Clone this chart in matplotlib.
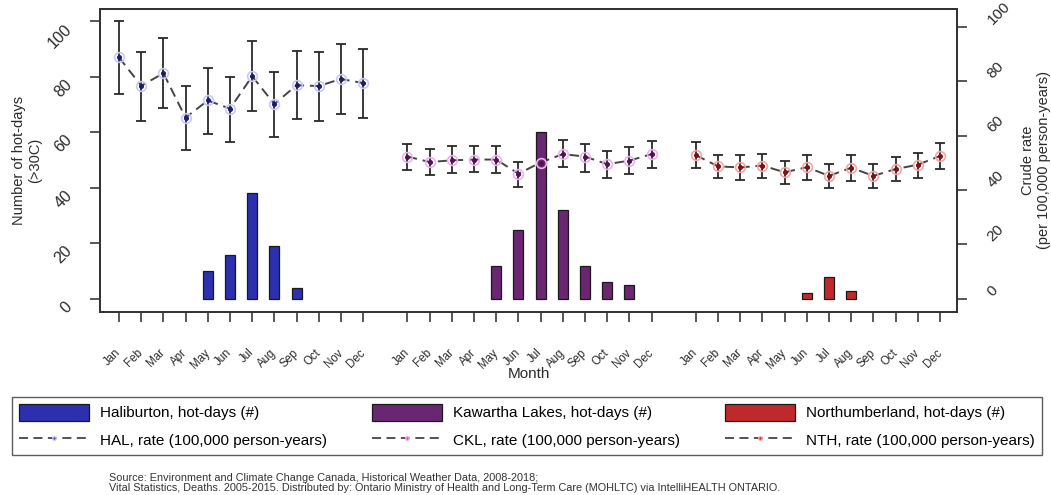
"""Monthly hot-days (>30C) and crude death rates for Haliburton, Kawartha Lakes
and Northumberland: bars for hot-days on the left axis, rates with error bars
on the right axis.  Writes out.png.
"""
import numpy as np
import matplotlib
matplotlib.use("Agg")
import matplotlib.pyplot as plt
from matplotlib.patches import Patch
from matplotlib.lines import Line2D

plt.rcParams["font.family"] = ["Liberation Sans", "DejaVu Sans"]

months = ["Jan", "Feb", "Mar", "Apr", "May", "Jun",
          "Jul", "Aug", "Sep", "Oct", "Nov", "Dec"]
regions = ["HAL", "CKL", "NTH"]
region_names = ["Haliburton", "Kawartha Lakes", "Northumberland"]

# hot-days (>30C), count per month
hal_days = [0, 0, 0, 0, 10, 16, 38, 19, 4, 0, 0, 0]
ckl_days = [0, 0, 0, 0, 12, 25, 60, 32, 12, 6, 5, 0]
nth_days = [0, 0, 0, 0, 0, 2, 8, 3, 0, 0, 0, 0]

# crude death rate per 100,000 person-years, with 95% CI
hal_rate = [88.7, 78.3, 82.9, 66.6, 72.9, 69.9, 81.8, 71.6, 78.5, 78.2, 80.8, 79.3]
hal_lo = [75.3, 65.5, 70.1, 54.8, 60.7, 57.7, 69.2, 59.4, 66.1, 65.5, 68.0, 66.5]
hal_hi = [102.1, 90.6, 95.8, 78.2, 84.9, 81.5, 94.8, 83.3, 91.2, 90.6, 93.7, 91.9]

ckl_rate = [52.3, 50.3, 50.9, 51.2, 51.2, 46.0, 50.1, 53.2, 52.3, 49.5, 50.8, 53.2]
ckl_lo = [47.2, 45.6, 46.2, 46.5, 46.2, 41.1, 45.0, 48.3, 46.5, 44.6, 46.0, 48.2]
ckl_hi = [57.0, 55.0, 56.0, 56.3, 56.3, 50.3, 54.8, 58.2, 57.0, 54.2, 55.8, 58.0]

nth_rate = [52.8, 48.7, 48.3, 49.0, 46.5, 48.4, 45.2, 48.2, 45.2, 47.7, 49.3, 52.5]
nth_lo = [48.1, 44.3, 43.8, 44.4, 42.1, 43.7, 40.7, 43.4, 40.7, 43.2, 44.6, 47.7]
nth_hi = [57.5, 53.0, 52.7, 53.4, 50.8, 52.7, 49.4, 52.7, 49.4, 52.3, 53.6, 57.2]

yticks = [0, 20, 40, 60, 80, 100]

days = [hal_days, ckl_days, nth_days]
rates = [hal_rate, ckl_rate, nth_rate]
los = [hal_lo, ckl_lo, nth_lo]
his = [hal_hi, ckl_hi, nth_hi]

bar_colors = ["#2c2fae", "#6a2670", "#c0292b"]
ring_colors = ["#c9c9f4", "#eeb2ee", "#f3a6a6"]
dot_colors = ["#1b1b70", "#4e1450", "#7e0f10"]
legend_dots = ["#3a3ad0", "#d040d0", "#d02020"]
ink = "#2a2a2a"

fig = plt.figure(figsize=(10.51, 4.95), dpi=100)
ax = fig.add_axes([0.0951, 0.3697, 0.8155, 0.6121])
ax2 = ax.twinx()
# bars sit above the rate error bars; rate markers are drawn last on top
ax.set_zorder(ax2.get_zorder() + 1)
ax.patch.set_visible(False)

all_x = []
for g in range(3):
    x = np.arange(12) + 13 * g
    all_x.extend(x)
    d = np.array(days[g])
    r = np.array(rates[g])
    lo = np.array(los[g])
    hi = np.array(his[g])

    ax2.errorbar(x, r, yerr=[r - lo, hi - r], fmt="none", ecolor=ink,
                 elinewidth=1.3, capsize=3.4, capthick=1.3)
    ax2.plot(x, r, color="#444444", lw=1.4, ls=(0, (5, 3)))

    keep = d > 0
    ax.bar(x[keep], d[keep], width=0.45, color=bar_colors[g],
           edgecolor="#1a1a1a", linewidth=0.9)

    # markers: pale ring with a dark centre, placed in rate coordinates
    ax.plot(x, r, ls="none", marker="o", ms=7, mfc="none",
            mec=ring_colors[g], mew=1.2, transform=ax2.transData, zorder=5)
    ax.plot(x, r, ls="none", marker="o", ms=2.6, color=dot_colors[g],
            transform=ax2.transData, zorder=6)

ax.set_xlim(-0.86, 37.77)
ax.set_ylim(-4.7, 104.4)
ax2.set_ylim(-4.8, 106.5)

ax.set_xticks(all_x, labels=months * 3, rotation=45, ha="right", va="center",
              rotation_mode="anchor", fontsize=8.3, color=ink)
ax.tick_params(axis="x", length=7, width=1.1, pad=21, colors=ink)

ax.set_yticks(yticks, labels=[str(v) for v in yticks], rotation=45,
              ha="right", va="top", rotation_mode="default", fontsize=11.5)
ax.tick_params(axis="y", length=7, width=1.1, pad=11, colors=ink)

ax2.set_yticks(yticks, labels=[str(v) for v in yticks], rotation=45,
               ha="left", va="bottom", rotation_mode="default", fontsize=11)
ax2.tick_params(axis="y", length=7, width=1.1, pad=13, colors=ink)

for a in (ax, ax2):
    for s in a.spines.values():
        s.set_color("#333333")
        s.set_linewidth(1.3)

fig.text(27 / 1051, 1 - 160 / 495, "Number of hot-days\n(>30C)", rotation=90,
         ha="center", va="center", ma="center", fontsize=10.5, color=ink)
fig.text(1036 / 1051, 1 - 160 / 495, "Crude rate\n(per 100,000 person-years)",
         rotation=90, ha="center", va="center", ma="center", fontsize=10.5,
         color=ink)
fig.text(529 / 1051, 1 - 374 / 495, "Month", ha="center", va="center",
         fontsize=11, color=ink)

handles, labels = [], []
for g in range(3):
    handles.append(Patch(facecolor=bar_colors[g], edgecolor="#1a1a1a", lw=0.9))
    labels.append(f"{region_names[g]}, hot-days (#)")
    handles.append(Line2D([], [], color="#444444", lw=1.3, ls=(0, (5, 3)),
                          marker="o", ms=2.6, mfc=legend_dots[g],
                          mec=ring_colors[g]))
    labels.append(f"{regions[g]}, rate (100,000 person-years)")

leg = fig.legend(handles, labels, ncol=3, loc="center", mode="expand",
                 bbox_to_anchor=(12 / 1051, 1 - 458 / 495, 1030 / 1051, 64 / 495),
                 borderaxespad=0, fontsize=11, handlelength=4.6, handleheight=1.4,
                 handletextpad=0.72, labelspacing=0.63,
                 fancybox=False, frameon=True, borderpad=0.45)
leg.get_frame().set_edgecolor("#333333")
leg.get_frame().set_linewidth(1.0)

fig.text(109 / 1051, 1 - 483 / 495,
         "Source: Environment and Climate Change Canada, Historical Weather Data, 2008-2018;\n"
         "Vital Statistics, Deaths. 2005-2015. Distributed by: Ontario Ministry of Health "
         "and Long-Term Care (MOHLTC) via IntelliHEALTH ONTARIO.",
         ha="left", va="center", fontsize=7.8, color="#333333", linespacing=0.95)

fig.savefig("out.png", dpi=100)
